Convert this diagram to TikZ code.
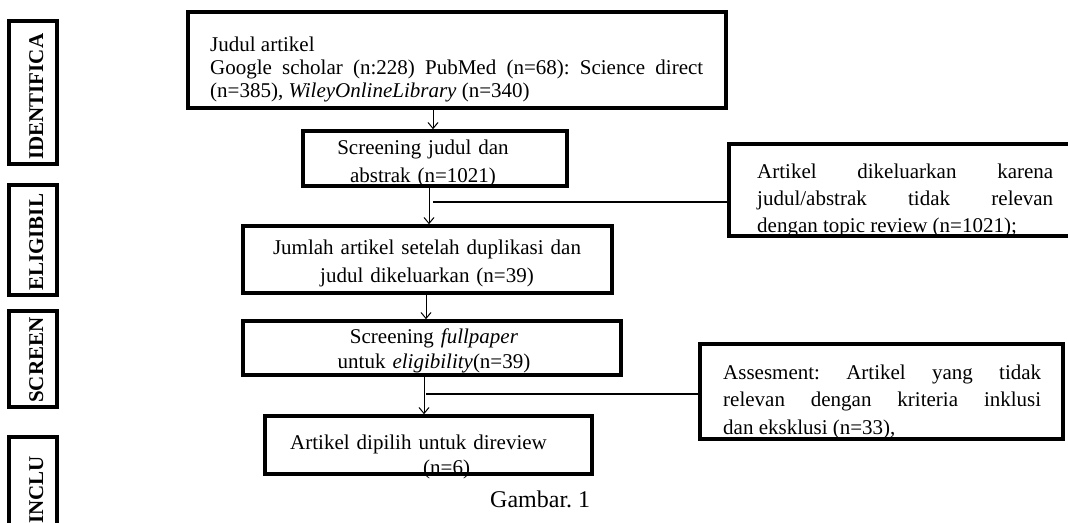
\documentclass[tikz,border=0pt]{standalone}
\usepackage{fontspec}
\setmainfont{Liberation Serif}
\usetikzlibrary{arrows.meta}
\frenchspacing
\begin{document}
\begin{tikzpicture}[x=1pt,y=-1pt,
  boxl/.style={draw, line width=3.5pt, rectangle, inner sep=0pt},
  lbl/.style={rotate=90, anchor=base west, inner sep=0pt, font=\fontsize{21}{25}\selectfont\bfseries},
  txt/.style={inner sep=0pt, font=\fontsize{21}{28}\selectfont},
  arr/.style={line width=1pt, -{Straight Barb[length=6pt,width=10pt]}},
  side/.style={line width=2.5pt}]
\useasboundingbox (0,0) rectangle (1068,522);
\clip (0,0) rectangle (1068,522);
% texts
\node[txt, anchor=base west, text width=493pt, align=justify, font=\fontsize{21}{23}\selectfont] (t1) at (210,51)
  {Judul artikel\\ Google scholar (n:228) PubMed (n=68): Science direct\linebreak (n=385), \textit{WileyOnlineLibrary} (n=340)};
\node[txt, anchor=base, text width=260pt, align=center] (t2) at (423,154) {Screening judul dan\\ abstrak (n=1021)};
\node[txt, anchor=base, text width=360pt, align=center] (t3) at (427,254) {Jumlah artikel setelah duplikasi dan\\ judul dikeluarkan (n=39)};
\node[txt, anchor=base, text width=360pt, align=center, font=\fontsize{21}{25}\selectfont] (t5) at (434,343) {Screening \textit{fullpaper}\\ untuk \textit{eligibility}(n=39)};
\node[txt, anchor=base west, text width=300pt, align=left, font=\fontsize{21}{25}\selectfont] (t6) at (290,449) {Artikel dipilih untuk direview\\ \hspace*{133pt}(n=6)};
\node[txt, anchor=base west, text width=296pt, align=justify, font=\fontsize{21}{27}\selectfont] (tr1) at (757,178)
  {Artikel dikeluarkan karena\linebreak judul/abstrak tidak relevan\linebreak dengan topic review (n=1021);};
\node[txt, anchor=base west, text width=318pt, align=justify, font=\fontsize{21}{27.5}\selectfont] (tr2) at (723,379)
  {Assesment: Artikel yang tidak\linebreak relevan dengan kriteria inklusi\linebreak dan eksklusi (n=33),};
\node[txt, anchor=base west, font=\fontsize{24}{28}\selectfont] (cap) at (490,507) {Gambar. 1};
% side labels
\node[lbl] (n1) at (43,160) {IDENTIFICA};
\node[lbl] (n2) at (43,291) {ELIGIBIL};
\node[lbl] (n3) at (43,403) {SCREEN};
\node[lbl] (n4) at (43,524) {INCLU};
% boxes
\node[boxl, minimum width=538pt, minimum height=96pt] (b1) at (457,60) {};
\node[boxl, minimum width=264pt, minimum height=55pt] (b2) at (435,158.5) {};
\node[boxl, minimum width=369pt, minimum height=67pt] (b3) at (427.5,259.5) {};
\node[boxl, minimum width=378pt, minimum height=54pt] (b5) at (432,348) {};
\node[boxl, minimum width=327pt, minimum height=58pt] (b6) at (428.5,445) {};
\node[boxl, minimum width=356pt, minimum height=92pt] (r1) at (907,190) {};
\node[boxl, minimum width=363pt, minimum height=95pt] (r2) at (881.5,391.5) {};
\node[boxl, minimum width=48pt, minimum height=143pt] (l1) at (33,92.5) {};
\node[boxl, minimum width=48pt, minimum height=110pt] (l2) at (33,240) {};
\node[boxl, minimum width=48pt, minimum height=96pt] (l3) at (33,359) {};
\node[boxl, minimum width=48pt, minimum height=108pt] (l4) at (33,491) {};
% connectors
\draw[arr] (b1.south -| 433,0) -- (433,0 |- b2.north);
\draw[arr] (b2.south -| 429,0) -- (429,0 |- b3.north);
\draw[arr] (b3.south -| 426,0) -- (426,0 |- b5.north);
\draw[arr] (b5.south -| 424,0) -- (424,0 |- b6.north);
\coordinate (j1) at (433,202);
\coordinate (j2) at (426,394);
\draw[side] (j1) -- (j1 -| r1.west);
\draw[side] (j2) -- (j2 -| r2.west);
\end{tikzpicture}
\end{document}
